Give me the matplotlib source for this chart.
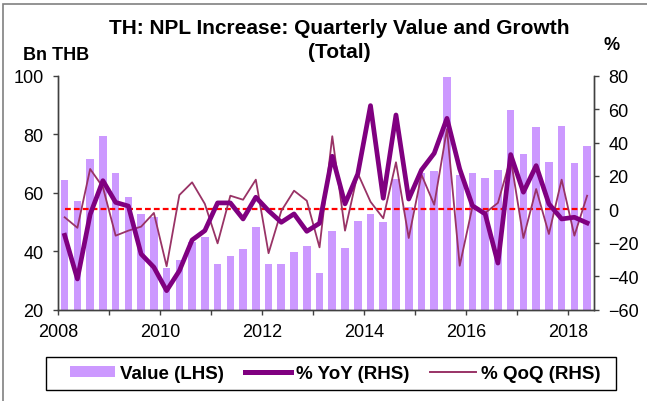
import numpy as np
import matplotlib
matplotlib.use('Agg')
import matplotlib.pyplot as plt
from matplotlib.patches import Patch, Rectangle
from matplotlib.lines import Line2D

plt.rcParams['font.family'] = ['Liberation Sans', 'DejaVu Sans']

# Datos trimestrales 2008T1 - 2018T2
years = list(range(2008, 2019))
value = [64.3, 57.3, 71.5, 79.4, 66.8, 58.5, 52.6, 51.6, 34.2, 37.1, 43.1, 44.7,
         35.6, 38.5, 40.8, 48.3, 35.5, 35.5, 39.7, 41.9, 32.4, 46.9, 41.1, 50.3,
         52.7, 50.1, 64.6, 55.0, 66.8, 67.3, 99.6, 66.2, 66.8, 65.1, 67.8, 88.2,
         73.2, 82.5, 70.4, 82.8, 70.0, 75.9]
yoy = [-15.5, -41.6, -3.0, 17.2, 4.2, 2.0, -26.7, -34.6, -48.6, -36.7, -18.3, -12.7,
       3.9, 3.9, -5.7, 7.3, -0.8, -7.7, -2.7, -13.1, -8.3, 31.8, 3.3, 21.2,
       62.1, 6.7, 56.5, 6.2, 23.6, 33.6, 54.5, 24.2, 2.2, -2.7, -32.1, 32.8,
       10.3, 26.2, 3.3, -5.7, -4.7, -8.1]
qoq = [-4.7, -11.0, 24.2, 13.3, -15.7, -12.7, -10.3, -2.1, -34.0, 8.6, 16.2, 3.3,
       -20.3, 8.2, 5.8, 17.8, -26.2, -0.9, 11.2, 5.2, -22.7, 43.8, -12.7, 21.6,
       4.6, -5.3, 28.2, -17.1, 20.8, 2.8, 48.1, -33.7, 1.6, -2.1, 3.9, 30.6,
       -17.1, 12.2, -14.7, 17.8, -15.7, 8.2]

x = np.arange(len(value))
bar_col = '#CC99FF'
yoy_col = '#800080'
qoq_col = '#993366'
axis_col = '#404040'
W, H = 647, 402

fig = plt.figure(figsize=(W / 100, H / 100), dpi=100)
ax = fig.add_axes([58.3 / W, 1 - 310.7 / H, 535.2 / W, 234 / H])
ax.bar(x, value, width=0.6, color=bar_col, zorder=2)
ax.set_ylim(20, 100)
ax.set_yticks(range(20, 101, 20))
ax.set_xlim(-0.5, len(value) - 0.5)

ax2 = ax.twinx()
ax2.set_ylim(-60, 80)
ax2.set_yticks(range(-60, 81, 20))
ax2.hlines(0, x[0], x[-1], colors='#FF0000', linestyles=(0, (2.6, 1.4)), lw=1.6, zorder=3)
ax2.plot(x, qoq, color=qoq_col, lw=1.3, zorder=4)
ax2.plot(x, yoy, color=yoy_col, lw=3.4, zorder=5)

# eje x: una marca por año, etiqueta cada dos
ticks = [4 * i - 0.5 for i in range(len(years))]
labels = [str(y) if (y % 2 == 0) else '' for y in years]
ax.set_xticks(ticks)
ax.set_xticklabels(labels)

for a in (ax, ax2):
    a.spines['top'].set_visible(False)
    for s in ('left', 'right', 'bottom'):
        a.spines[s].set_color(axis_col)
        a.spines[s].set_linewidth(1.0)
    a.tick_params(axis='both', colors=axis_col, labelcolor='black', labelsize=13,
                  direction='out', length=3.6, width=1.0)
ax.tick_params(axis='x', pad=6)
ax.tick_params(axis='y', pad=7)
ax2.tick_params(axis='y', pad=7)

fig.text(339 / W, 1 - 34.3 / H, 'TH: NPL Increase: Quarterly Value and Growth',
         ha='center', va='baseline', fontsize=15, fontweight='bold')
fig.text(339 / W, 1 - 58.5 / H, '(Total)', ha='center', va='baseline',
         fontsize=15, fontweight='bold')
fig.text(89 / W, 1 - 60 / H, 'Bn THB', ha='right', va='baseline',
         fontsize=13, fontweight='bold')
fig.text(612 / W, 1 - 50 / H, '%', ha='center', va='baseline',
         fontsize=13, fontweight='bold')

# leyenda: marco aparte
handles = [Patch(facecolor=bar_col, edgecolor='none'),
           Line2D([], [], color=yoy_col, lw=3.6),
           Line2D([], [], color=qoq_col, lw=1.4)]
fig.legend(handles, ['Value (LHS)', '% YoY (RHS)', '% QoQ (RHS)'],
           loc='center', bbox_to_anchor=(335 / W, 1 - 374.5 / H), ncol=3,
           frameon=False, borderpad=0.0, handlelength=2.45, handleheight=0.5,
           columnspacing=1.1, handletextpad=0.27,
           prop={'weight': 'bold', 'size': 13.5})
fig.patches.append(Rectangle((45.7 / W, 1 - 391 / H), 570 / W, 33 / H,
                             transform=fig.transFigure, fill=False,
                             edgecolor='black', lw=1.0))

# borde gris del gráfico (solo arriba e izquierda visibles)
fig.patches.append(Rectangle((3.3 / W, -0.1), 1.2, 1.1 - 4.7 / H,
                             transform=fig.transFigure, fill=False,
                             edgecolor='#808080', lw=1.2))

fig.savefig('out.png', dpi=100)
